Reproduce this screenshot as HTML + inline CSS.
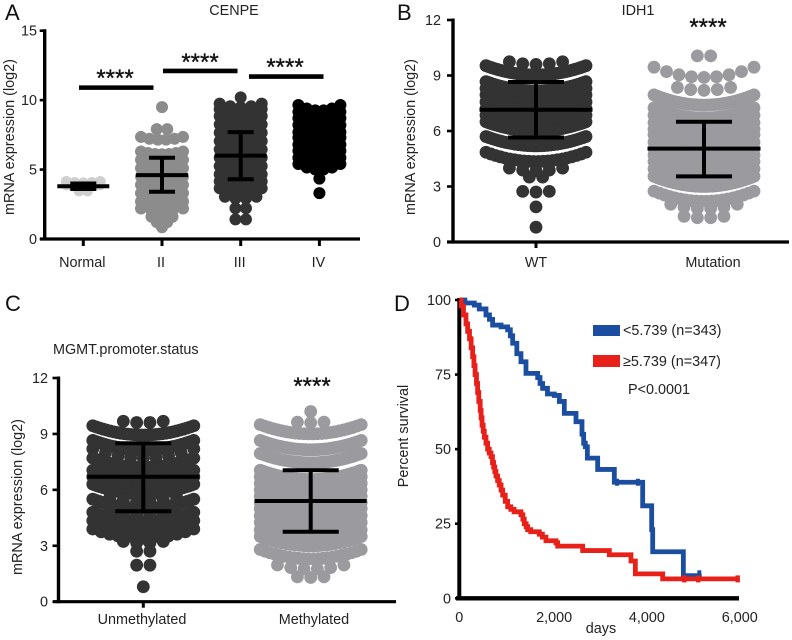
<!DOCTYPE html>
<html>
<head>
<meta charset="utf-8">
<title>CENPE expression panels</title>
<style>
html,body{margin:0;padding:0;background:#fff;}
svg{display:block;font-family:"Liberation Sans",sans-serif;fill:#222;}
text{font-size:14.4px;}
.letter{font-size:22px;fill:#111;}
.stars{font-size:24px;fill:#111;stroke:#111;stroke-width:0.35px;text-anchor:middle;}
</style>
</head>
<body>
<svg id="figure" width="792" height="640" viewBox="0 0 792 640" xmlns="http://www.w3.org/2000/svg">
  <rect width="792" height="640" fill="#fff"/>
  <text class="letter" x="5" y="20">A</text>
  <text class="letter" x="397" y="20">B</text>
  <text class="letter" x="5" y="311">C</text>
  <text class="letter" x="394" y="311">D</text>
  <text x="234" y="15" text-anchor="middle">CENPE</text>
  <text x="638" y="15" text-anchor="middle">IDH1</text>
  <text x="53" y="354">MGMT.promoter.status</text>
  <text transform="translate(14 137) rotate(-90)" text-anchor="middle">mRNA expression (log2)</text>
  <text transform="translate(415 137) rotate(-90)" text-anchor="middle">mRNA expression (log2)</text>
  <text transform="translate(22 497) rotate(-90)" text-anchor="middle">mRNA expression (log2)</text>
  <text transform="translate(408 436) rotate(-90)" text-anchor="middle">Percent survival</text>
  <text x="601" y="633" text-anchor="middle">days</text>
  <text class="stars" x="115" y="86">****</text>
  <text class="stars" x="200" y="70">****</text>
  <text class="stars" x="285" y="75">****</text>
  <text class="stars" x="708" y="35">****</text>
  <text class="stars" x="312" y="394">****</text>
  <rect x="593" y="325" width="27" height="11" fill="#1b4da0"/>
  <text x="623" y="335">&lt;5.739 (n=343)</text>
  <rect x="593" y="355" width="27" height="12" fill="#e8201a"/>
  <text x="623" y="366">≥5.739 (n=347)</text>
  <text x="628" y="394">P&lt;0.0001</text>
</svg>
<script>
// Panel A: CENPE
const aCategories = ['Normal', 'II', 'III', 'IV'];
const aYTicks = [0, 5, 10, 15];
const normalLevels = [4.05, 3.8, 3.45];
const normalCounts = [5, 7, 2];
const gradeIILevels = [9.5, 7.9, 7.15, 6.1, 5.5, 4.9, 4.3, 3.7, 3.1, 2.5, 2.0, 1.55, 1.2, 0.85];
const gradeIICounts = [1, 2, 6, 7, 8, 10, 12, 10, 8, 7, 5, 3, 2, 1];
const gradeIIILevels = [10.2, 9.5, 9.1, 8.6, 8.0, 7.4, 6.8, 6.2, 5.6, 5.0, 4.4, 3.9, 3.4, 2.9, 2.2, 1.4];
const gradeIIICounts = [1, 5, 8, 10, 10, 10, 10, 10, 10, 10, 10, 9, 7, 4, 2, 2];
const gradeIVLevels = [9.25, 8.75, 8.3, 7.8, 7.3, 6.9, 6.4, 5.95, 5.45, 5.0, 4.35, 3.3];
const gradeIVCounts = [6, 8, 8, 10, 10, 12, 12, 10, 8, 6, 1, 1];
const aMeans = [3.8, 4.6, 6.0, 7.5];
const aLower = [3.6, 3.4, 4.3, 6.2];
const aUpper = [4.0, 5.85, 7.7, 8.8];
const aBracketLevels = [10.9, 12.1, 11.7];

// Panel B: IDH1
const bCategories = ['WT', 'Mutation'];
const bYTicks = [0, 3, 6, 9, 12];
const wtLevels = [9.6, 9.03, 8.17, 7.8, 7.45, 7.07, 6.7, 6.35, 6.0, 5.2, 4.35, 3.85, 3.5, 2.7, 1.9, 0.8];
const wtCounts = [5, 36, 40, 12, 40, 12, 40, 12, 40, 32, 22, 5, 2, 3, 1, 1];
const mutLevels = [10.05, 8.9, 8.2, 7.4, 6.7, 6.3, 5.9, 5.55, 5.25, 4.85, 4.5, 4.15, 3.8, 3.4, 3.0, 2.2, 1.8, 1.3];
const mutCounts = [2, 9, 5, 34, 36, 12, 40, 12, 40, 12, 40, 12, 40, 12, 30, 20, 6, 4];
const bMeans = [7.15, 5.05];
const bLower = [5.65, 3.55];
const bUpper = [8.65, 6.5];

// Panel C: MGMT promoter status
const cCategories = ['Unmethylated', 'Methylated'];
const cYTicks = [0, 3, 6, 9, 12];
const unmethLevels = [9.6, 8.94, 8.15, 7.7, 7.2, 6.55, 6.2, 5.8, 5.4, 5.0, 4.65, 4.3, 3.85, 3.4, 3.15, 2.7, 1.95, 0.8];
const unmethCounts = [4, 30, 34, 9, 36, 38, 10, 38, 6, 34, 6, 32, 10, 13, 4, 2, 2, 1];
const methLevels = [10.2, 9.6, 9.0, 8.15, 7.45, 6.55, 6.2, 5.85, 5.5, 5.15, 4.82, 4.5, 4.12, 3.75, 3.35, 3.0, 2.3, 1.75, 1.3];
const methCounts = [1, 3, 24, 36, 36, 40, 12, 40, 12, 40, 12, 40, 12, 40, 12, 36, 22, 6, 3];
const cMeans = [6.7, 5.4];
const cLower = [4.85, 3.75];
const cUpper = [8.5, 7.05];

// Panel D: survival
const dXTicks = [0, 2000, 4000, 6000];
const dYTicks = [0, 25, 50, 75, 100];
const lowDays = [0, 120, 323, 430, 575, 650, 718, 900, 1042, 1100, 1150, 1240, 1329, 1437, 1689, 1740, 1796, 1900, 2048, 2156, 2263, 2515, 2644, 2680, 2716, 2760, 2982, 3341, 3952, 4146, 4168, 4829, 5173];
const lowSurvival = [100, 99, 98.3, 97, 95, 93.5, 91.6, 91, 90, 88, 85.5, 82, 79.3, 75.4, 74, 72, 70.4, 68.5, 68, 66, 62, 59.2, 55, 52, 50.8, 47, 43.2, 38.9, 31, 23, 15.6, 7.6, 8.2];
const highDays = [0, 40, 90, 144, 180, 220, 255, 287, 315, 340, 370, 395, 420, 450, 470, 490, 515, 539, 575, 610, 645, 683, 715, 740, 765, 790, 825, 860, 900, 934, 990, 1042, 1110, 1180, 1329, 1370, 1400, 1440, 1473, 1540, 1724, 1790, 1868, 2084, 2120, 2659, 3233, 3700, 3794, 4383, 6000];
const highSurvival = [100, 98, 95, 92, 89.5, 87, 84, 81, 78, 75, 72, 69, 66, 63, 60.5, 58, 56, 54, 52, 50, 48.7, 47.5, 45.5, 44, 42.5, 41, 39.5, 38, 36.3, 34.6, 32.5, 30.7, 29.8, 29, 28, 26.5, 25, 24, 23, 22.3, 21.5, 20.5, 19.3, 18.6, 17.5, 16, 14.6, 12.5, 8.2, 6.5, 6.5];
const highCensorDays = [4850, 5150, 6000];
const highCensorSurvival = [6.5, 6.5, 6.5];
const lowCensorDays = [3400, 3850, 5173];
const lowCensorSurvival = [38.9, 38.9, 8.2];

const SVG_NS = 'http://www.w3.org/2000/svg';
const figure = document.getElementById('figure');

function linear(d0, d1, r0, r1) {
  return function (v) { return r0 + (v - d0) * (r1 - r0) / (d1 - d0); };
}
function makeGroup(name) {
  const el = document.createElementNS(SVG_NS, 'g');
  
  
  figure.appendChild(el);
  return el;
}
function drawLine(parent, x1, y1, x2, y2, width, color, name) {
  const el = document.createElementNS(SVG_NS, 'line');
  el.setAttribute('x1', x1);
  el.setAttribute('y1', y1);
  el.setAttribute('x2', x2);
  el.setAttribute('y2', y2);
  el.setAttribute('stroke', color);
  el.setAttribute('stroke-width', width);
  
  
  parent.appendChild(el);
}
function drawLabel(parent, x, y, str, anchor, name) {
  const el = document.createElementNS(SVG_NS, 'text');
  el.setAttribute('x', x);
  el.setAttribute('y', y);
  el.setAttribute('text-anchor', anchor);
  el.textContent = str;
  
  
  parent.appendChild(el);
}
function drawSwarm(parent, levels, counts, cx, yScale, r, hw, step, sag, color, name) {
  levels.forEach(function (level, i) {
    const n = counts[i];
    const span = Math.min(hw, (n - 1) * step / 2);
    for (let k = 0; k < n; k++) {
      const dx = n > 1 ? -span + 2 * span * k / (n - 1) : 0;
      const v = level + sag * (dx / hw) * (dx / hw);
      const el = document.createElementNS(SVG_NS, 'circle');
      el.setAttribute('cx', cx + dx);
      el.setAttribute('cy', yScale(v));
      el.setAttribute('r', r);
      el.setAttribute('fill', color);
      
      
      parent.appendChild(el);
    }
  });
}
function drawErrorBar(parent, cx, yScale, mean, low, up, meanHw, capHw, width, name) {
  drawLine(parent, cx - meanHw, yScale(mean), cx + meanHw, yScale(mean), width, '#000', name + '-mean');
  drawLine(parent, cx, yScale(low), cx, yScale(up), width, '#000', name + '-stem');
  drawLine(parent, cx - capHw, yScale(low), cx + capHw, yScale(low), width, '#000', name + '-lower-cap');
  drawLine(parent, cx - capHw, yScale(up), cx + capHw, yScale(up), width, '#000', name + '-upper-cap');
}
function drawYAxis(parent, ticks, yScale, x, tickLen, labelX, prefix) {
  drawLine(parent, x, yScale(ticks[ticks.length - 1]) - 1.5, x, yScale(ticks[0]) + 1.5, 3.4, '#000', prefix + '-y-axis');
  ticks.forEach(function (t) {
    drawLine(parent, x - tickLen, yScale(t), x, yScale(t), 2.6, '#000', prefix + '-y-tick');
    drawLabel(parent, labelX, yScale(t) + 5, String(t), 'end', prefix + '-y-tick-label');
  });
}

// ---------- Panel A ----------
const aY = linear(0, 15, 239, 30.7);
const aX = function (i) { return 83.3 + 78.7 * i; };
const aDots = makeGroup('panel-a-swarms');
drawSwarm(aDots, normalLevels, normalCounts, aX(0), aY, 5.4, 17, 8.5, 0.1, '#cfcfcf', 'normal-dot');
drawSwarm(aDots, gradeIILevels, gradeIICounts, aX(1), aY, 6, 21, 10.5, 0.2, '#8c8c8c', 'grade-ii-dot');
drawSwarm(aDots, gradeIIILevels, gradeIIICounts, aX(2), aY, 6, 21, 10.5, 0.25, '#333333', 'grade-iii-dot');
drawSwarm(aDots, gradeIVLevels, gradeIVCounts, aX(3), aY, 6, 21, 10.5, 0.4, '#000000', 'grade-iv-dot');
const aAxes = makeGroup('panel-a-axes');
drawYAxis(aAxes, aYTicks, aY, 44.7, 5, 37, 'panel-a');
drawLine(aAxes, 40, aY(0), 360, aY(0), 3.2, '#000', 'panel-a-x-axis');
aCategories.forEach(function (c, i) {
  drawLine(aAxes, aX(i), aY(0), aX(i), aY(0) + 7, 3, '#000', 'panel-a-x-tick');
  drawLabel(aAxes, aX(i) - 1, 267, c, 'middle', 'panel-a-category-label');
  drawErrorBar(aAxes, aX(i), aY, aMeans[i], aLower[i], aUpper[i], 26, 13, 4, 'panel-a-error-bar');
});
aBracketLevels.forEach(function (level, i) {
  const left = [79, 163, 249][i];
  drawLine(aAxes, left, aY(level), left + 74.5, aY(level), 4.6, '#000', 'panel-a-bracket');
});

// ---------- Panel B ----------
const bY = linear(0, 12, 242, 20);
const bX = [536, 704];
const bDots = makeGroup('panel-b-swarms');
drawSwarm(bDots, wtLevels, wtCounts, bX[0], bY, 6.4, 50, 13.3, 0.5, '#333333', 'wt-dot');
drawSwarm(bDots, mutLevels, mutCounts, bX[1], bY, 6.4, 50, 13.3, 0.55, '#9a9a9f', 'mutation-dot');
const bAxes = makeGroup('panel-b-axes');
drawYAxis(bAxes, bYTicks, bY, 453, 6, 441, 'panel-b');
drawLine(bAxes, 447, bY(0), 789, bY(0), 3.2, '#000', 'panel-b-x-axis');
drawLine(bAxes, bX[0], bY(0), bX[0], bY(0) + 6, 3, '#000', 'panel-b-x-tick');
drawLabel(bAxes, 536, 267, bCategories[0], 'middle', 'panel-b-category-label');
drawLabel(bAxes, 713, 267, bCategories[1], 'middle', 'panel-b-category-label');
bMeans.forEach(function (m, i) {
  drawErrorBar(bAxes, bX[i], bY, m, bLower[i], bUpper[i], 56.5, 28, 4, 'panel-b-error-bar');
});

// ---------- Panel C ----------
const cY = linear(0, 12, 601.7, 378);
const cX = [143.3, 310.7];
const cDots = makeGroup('panel-c-swarms');
drawSwarm(cDots, unmethLevels, unmethCounts, cX[0], cY, 6.4, 50.5, 13.3, 0.5, '#333333', 'unmethylated-dot');
drawSwarm(cDots, methLevels, methCounts, cX[1], cY, 6.4, 50.5, 13.3, 0.5, '#9b9b9f', 'methylated-dot');
const cAxes = makeGroup('panel-c-axes');
drawYAxis(cAxes, cYTicks, cY, 58.5, 6, 48, 'panel-c');
drawLine(cAxes, 53, cY(0), 396, cY(0), 3.2, '#000', 'panel-c-x-axis');
drawLine(cAxes, cX[0], cY(0), cX[0], cY(0) + 6, 3, '#000', 'panel-c-x-tick');
drawLabel(cAxes, 142, 624, cCategories[0], 'middle', 'panel-c-category-label');
drawLabel(cAxes, 314, 624, cCategories[1], 'middle', 'panel-c-category-label');
cMeans.forEach(function (m, i) {
  drawErrorBar(cAxes, cX[i], cY, m, cLower[i], cUpper[i], 56, 28, 4, 'panel-c-error-bar');
});

// ---------- Panel D ----------
const dX = linear(0, 6000, 459.3, 737.7);
const dY = linear(0, 100, 598.3, 300);
function stepPath(xs, ys) {
  let d = 'M' + dX(xs[0]) + ' ' + dY(ys[0]);
  for (let i = 1; i < xs.length; i++) {
    d += 'H' + dX(xs[i]) + 'V' + dY(ys[i]);
  }
  return d;
}
const dAxes = makeGroup('panel-d-axes');
drawLine(dAxes, dX(0), dY(100) - 2, dX(0), dY(0), 4, '#000', 'panel-d-y-axis');
drawLine(dAxes, 456, dY(0), 739, dY(0), 4.4, '#000', 'panel-d-x-axis');
dYTicks.forEach(function (t) {
  drawLine(dAxes, 455, dY(t), dX(0), dY(t), 2.6, '#000', 'panel-d-y-tick');
  drawLabel(dAxes, 451, dY(t) + 5, String(t), 'end', 'panel-d-y-tick-label');
});
dXTicks.forEach(function (t, i) {
  const shift = i === 0 ? 0 : 2;
  drawLabel(dAxes, dX(t) + shift, 622, t.toLocaleString('en-US'), 'middle', 'panel-d-x-tick-label');
});
const dCurves = makeGroup('panel-d-curves');
const lowPath = document.createElementNS(SVG_NS, 'path');
lowPath.setAttribute('d', stepPath(lowDays, lowSurvival));
lowPath.setAttribute('fill', 'none');
lowPath.setAttribute('stroke', '#1b4da0');
lowPath.setAttribute('stroke-width', '4.8');


dCurves.appendChild(lowPath);
const highPath = document.createElementNS(SVG_NS, 'path');
highPath.setAttribute('d', stepPath(highDays, highSurvival));
highPath.setAttribute('fill', 'none');
highPath.setAttribute('stroke', '#e8201a');
highPath.setAttribute('stroke-width', '4.8');


dCurves.appendChild(highPath);
lowCensorDays.forEach(function (t, i) {
  drawLine(dCurves, dX(t), dY(lowCensorSurvival[i]) - 3.5, dX(t), dY(lowCensorSurvival[i]) + 3.5, 4, '#1b4da0', 'censor-mark-low');
});
highCensorDays.forEach(function (t, i) {
  drawLine(dCurves, dX(t), dY(highCensorSurvival[i]) - 3.5, dX(t), dY(highCensorSurvival[i]) + 3.5, 4.4, '#e8201a', 'censor-mark-high');
});
</script>
</body>
</html>
